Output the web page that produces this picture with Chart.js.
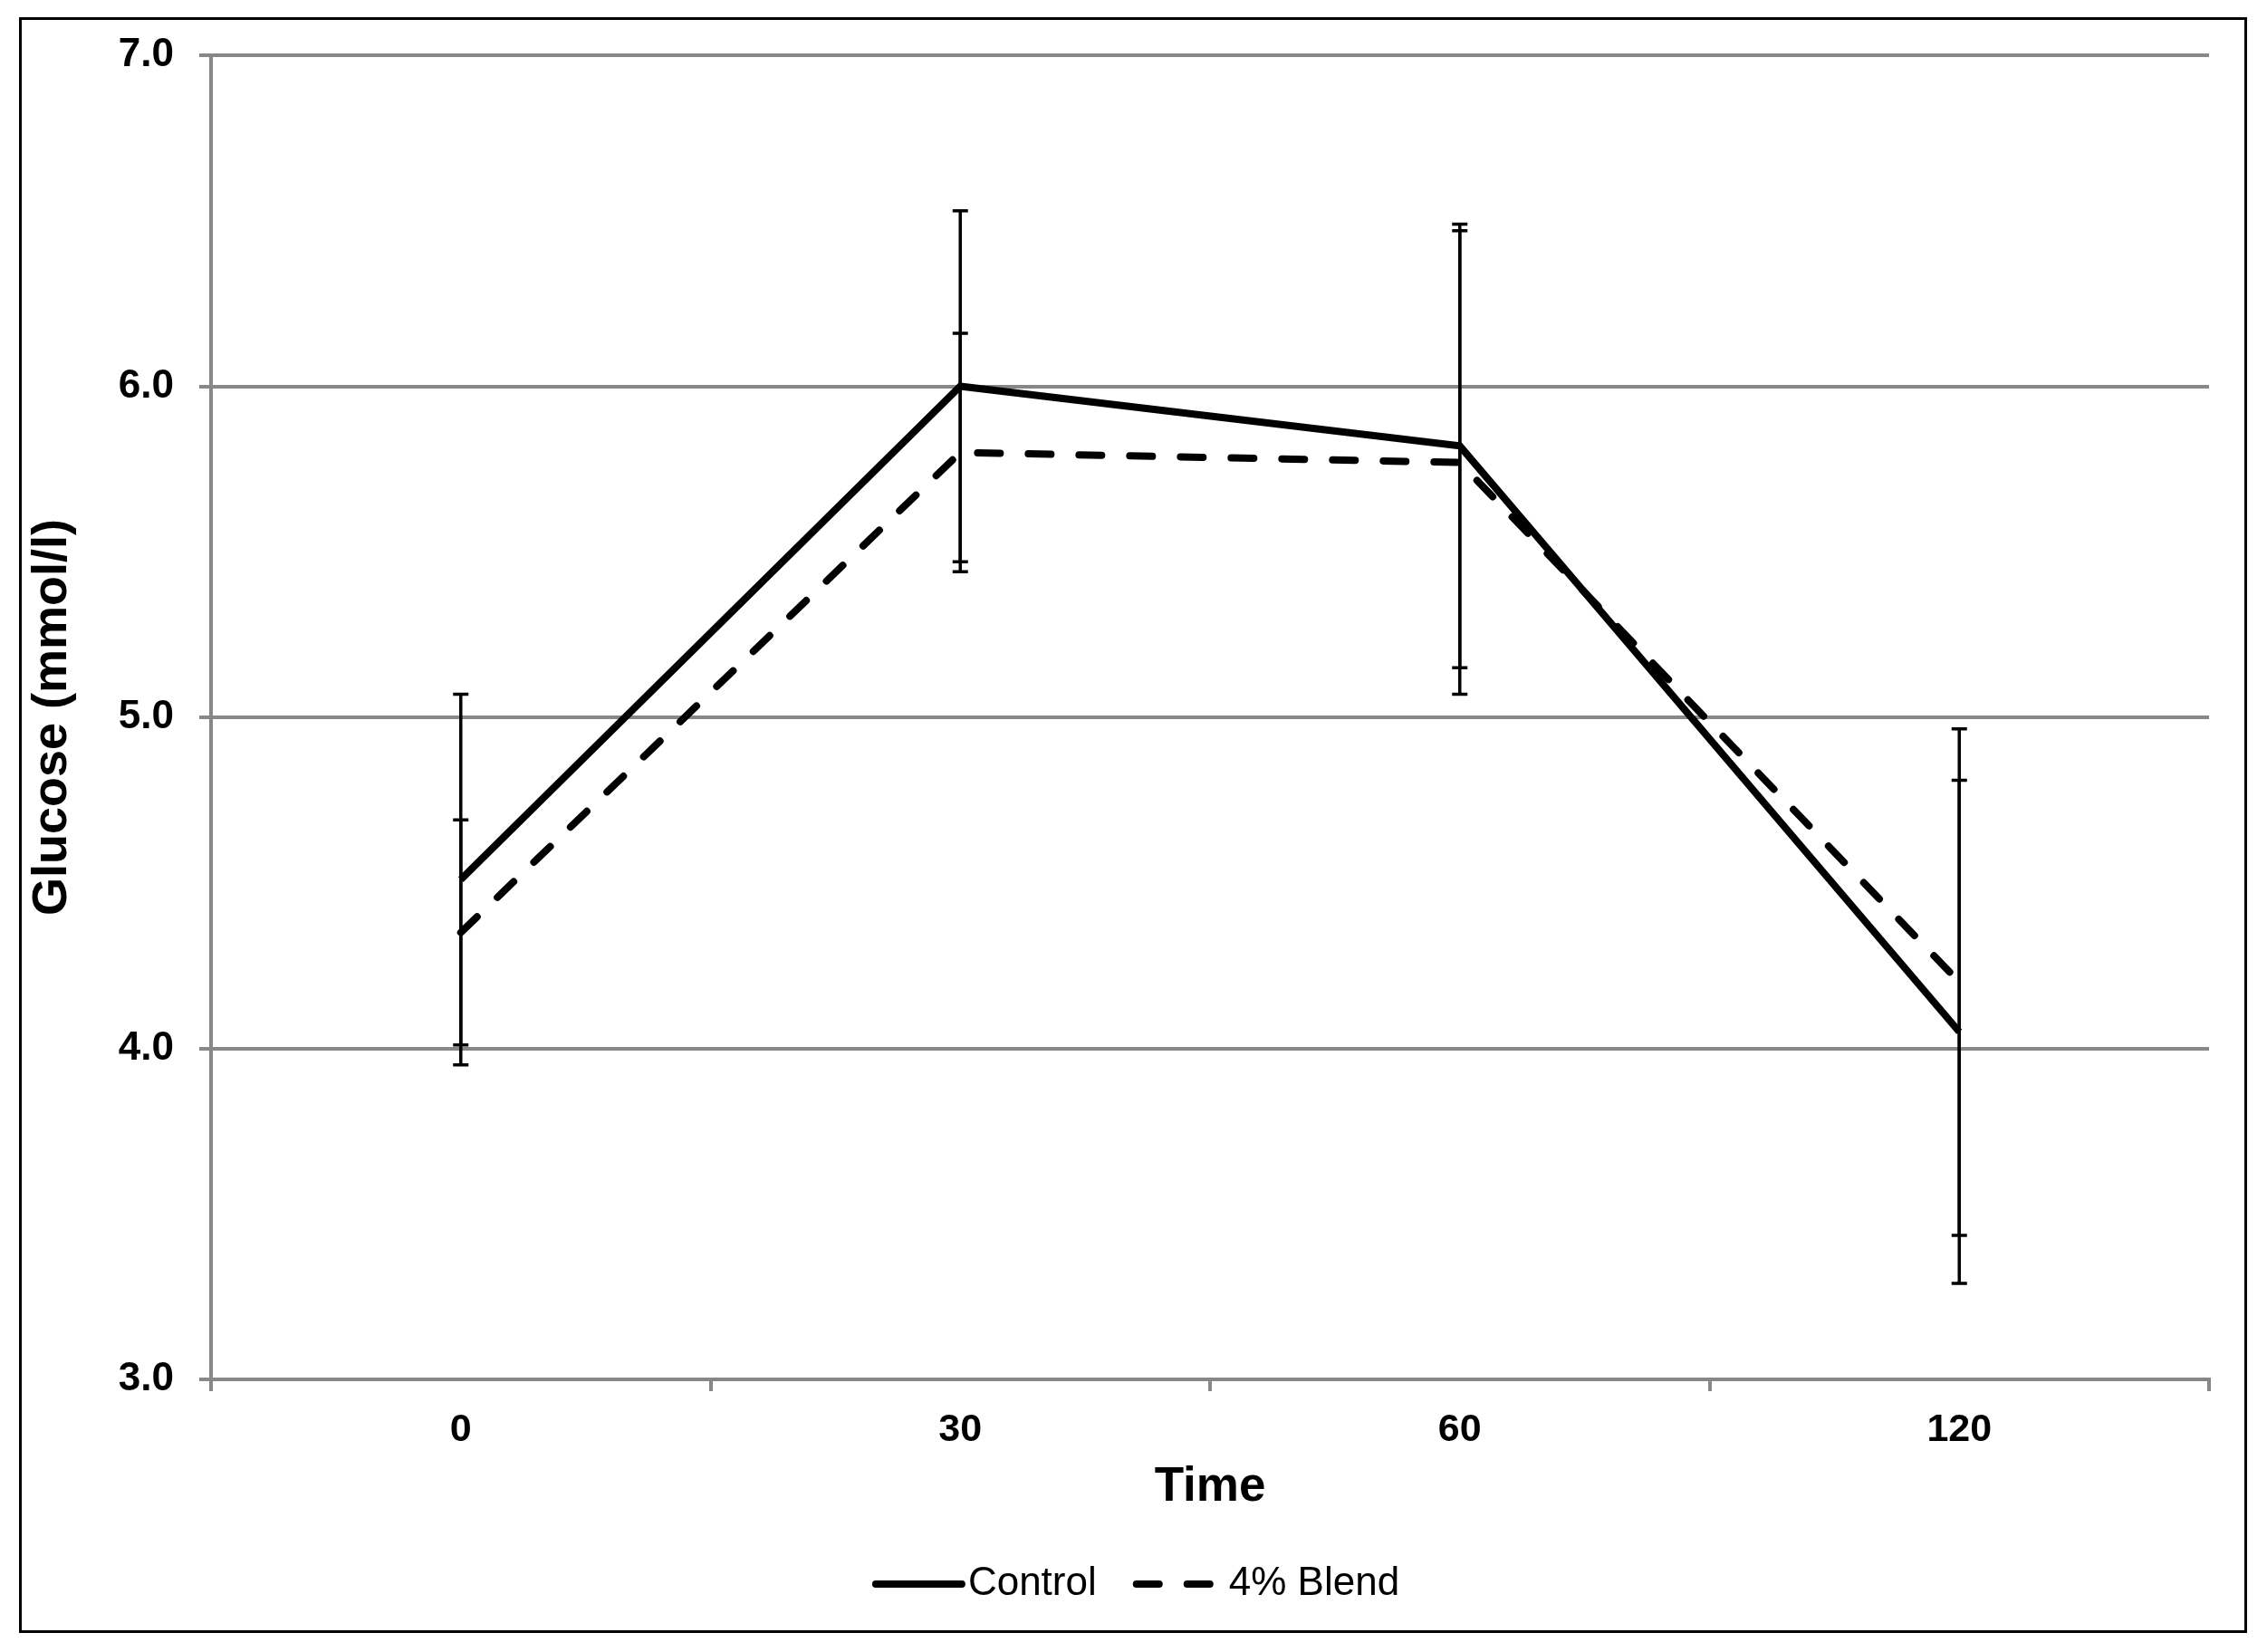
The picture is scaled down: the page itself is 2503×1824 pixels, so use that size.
<!DOCTYPE html>
<html>
<head>
<meta charset="utf-8">
<script src="https://cdn.jsdelivr.net/npm/chart.js@4.4.0/dist/chart.umd.min.js"></script>
<style>
  html, body { margin: 0; padding: 0; background: #fff; }
  #wrap { width: 2503px; height: 1824px; }
</style>
</head>
<body>
<div id="wrap"><canvas id="glucoseChart" width="2503" height="1824"></canvas></div>
<script>
// values
var timeLabels = ['0', '30', '60', '120'];
var controlMean = [4.51, 6.00, 5.82, 4.05];
var controlErr = [0.56, 0.53, 0.67, 0.76];
var blendMean = [4.35, 5.80, 5.77, 4.20];
var blendErr = [0.34, 0.36, 0.70, 0.765];
var yMin = 3, yMax = 7, yStep = 1;

var FONT = '"Liberation Sans", Arial, sans-serif';
var GRID = '#878787';

// white background + black frame round the figure
var framePlugin = {
  id: 'frame',
  beforeDraw: function(chart){
    var ctx = chart.ctx;
    ctx.save();
    ctx.fillStyle = '#fff';
    ctx.fillRect(0, 0, chart.width, chart.height);
    ctx.strokeStyle = '#000';
    ctx.lineWidth = 3;
    ctx.strokeRect(22.5, 20.5, 2457, 1781);
    ctx.restore();
  }
};

// +/- error bars with caps
var errorBarPlugin = {
  id: 'errorBars',
  afterDatasetsDraw: function(chart){
    var ctx = chart.ctx, yScale = chart.scales.y;
    ctx.save();
    ctx.strokeStyle = '#000';
    ctx.lineWidth = 3.5;
    ctx.setLineDash([]);
    chart.data.datasets.forEach(function(ds, di){
      var meta = chart.getDatasetMeta(di);
      ds.errorBars.forEach(function(e, i){
        var x = meta.data[i].x;
        var top = yScale.getPixelForValue(ds.data[i] + e);
        var bot = yScale.getPixelForValue(ds.data[i] - e);
        ctx.beginPath();
        ctx.moveTo(x, top); ctx.lineTo(x, bot);
        ctx.moveTo(x - 8.5, top); ctx.lineTo(x + 8.5, top);
        ctx.moveTo(x - 8.5, bot); ctx.lineTo(x + 8.5, bot);
        ctx.stroke();
      });
    });
    ctx.restore();
  }
};

// legend under the axis title, line sample right before the text
var legendPlugin = {
  id: 'bottomLegend',
  afterDraw: function(chart){
    var ctx = chart.ctx;
    var sample = 95, gap = 7, itemGap = 44, cy = 1749, cx = 1256;
    ctx.save();
    ctx.font = '44px ' + FONT;
    var items = chart.data.datasets.map(function(ds){
      return { ds: ds, w: ctx.measureText(ds.label).width };
    });
    var total = itemGap * (items.length - 1);
    items.forEach(function(it){ total += sample + gap + it.w; });
    var x = cx - total / 2;
    items.forEach(function(it){
      ctx.beginPath();
      ctx.setLineDash(it.ds.borderDash || []);
      ctx.lineWidth = it.ds.borderWidth;
      ctx.lineCap = 'round';
      ctx.strokeStyle = '#000';
      ctx.moveTo(x, cy);
      ctx.lineTo(x + sample, cy);
      ctx.stroke();
      ctx.setLineDash([]);
      ctx.fillStyle = '#000';
      ctx.textBaseline = 'middle';
      ctx.textAlign = 'left';
      ctx.fillText(it.ds.label, x + sample + gap, cy);
      x += sample + gap + it.w + itemGap;
    });
    ctx.restore();
  }
};

new Chart(document.getElementById('glucoseChart'), {
  type: 'line',
  data: {
    labels: timeLabels,
    datasets: [
      {
        label: 'Control',
        data: controlMean,
        errorBars: controlErr,
        borderColor: '#000',
        borderWidth: 8,
        pointRadius: 0,
        tension: 0,
        fill: false
      },
      {
        label: '4% Blend',
        data: blendMean,
        errorBars: blendErr,
        borderColor: '#000',
        borderWidth: 8,
        borderDash: [25, 31],
        borderCapStyle: 'round',
        pointRadius: 0,
        tension: 0,
        fill: false
      }
    ]
  },
  options: {
    responsive: false,
    devicePixelRatio: 1,
    animation: false,
    layout: { padding: { left: 22, right: 64, top: 61, bottom: 141 } },
    plugins: {
      legend: { display: false },
      tooltip: { enabled: false }
    },
    scales: {
      x: {
        type: 'category',
        offset: true,
        grid: { display: true, drawOnChartArea: false, drawTicks: true, offset: true, tickLength: 13, color: GRID, lineWidth: 4 },
        border: { display: true, color: GRID, width: 4 },
        ticks: { color: '#000', font: { family: FONT, size: 43, weight: 'bold' }, padding: 17, maxRotation: 0, autoSkip: false },
        title: { display: true, text: 'Time', color: '#000', font: { family: FONT, size: 53, weight: 'bold' }, padding: { top: 0, bottom: 9 } },
        afterFit: function(s){ s.height = 160; }
      },
      y: {
        min: yMin,
        max: yMax,
        grid: { color: GRID, lineWidth: 4, tickLength: 13 },
        border: { display: true, color: GRID, width: 4 },
        ticks: {
          stepSize: yStep,
          color: '#000',
          padding: 28,
          font: { family: FONT, size: 44, weight: 'bold' },
          callback: function(v){ return Number(v).toFixed(1); }
        },
        title: { display: true, text: 'Glucose (mmol/l)', color: '#000', font: { family: FONT, size: 54, weight: 'bold' }, padding: { top: 4, bottom: 0 } },
        afterFit: function(s){ s.width = 211; }
      }
    }
  },
  plugins: [framePlugin, errorBarPlugin, legendPlugin]
});
</script>
</body>
</html>
